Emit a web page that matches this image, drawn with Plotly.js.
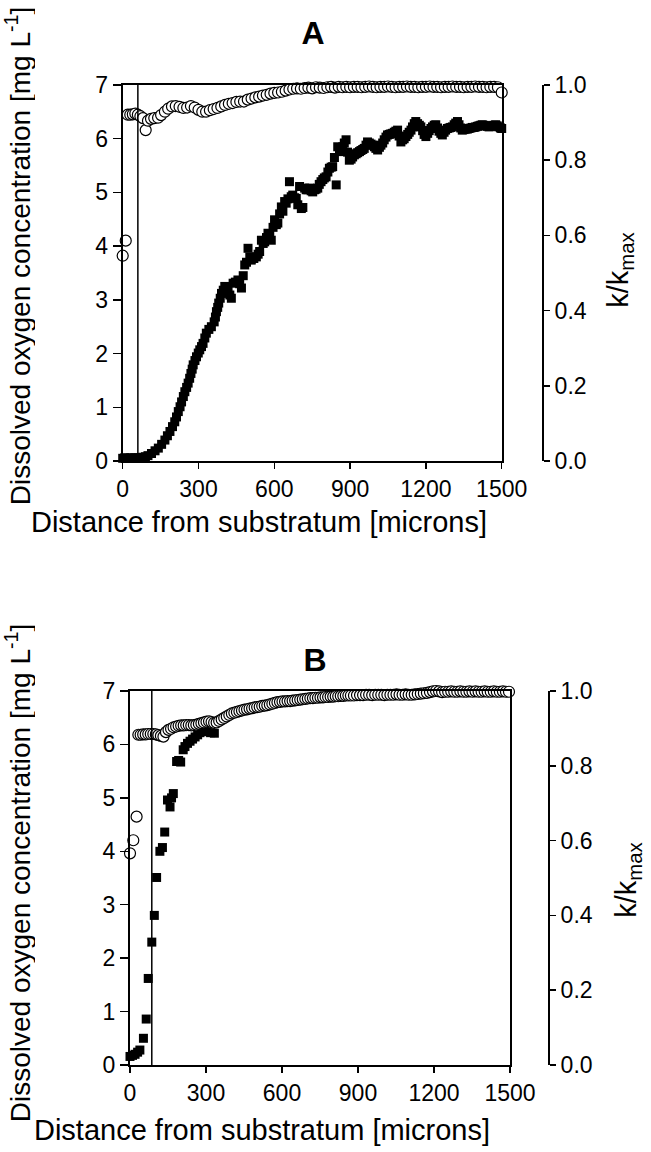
<!DOCTYPE html>
<html>
<head>
<meta charset="utf-8">
<script src="https://cdn.plot.ly/plotly-3.0.1.min.js"></script>
<style>html,body{margin:0;padding:0;background:#fff}#chart{width:651px;height:1152px}</style>
</head>
<body>
<div id="chart"></div>
<script>
// ---------- Panel A ----------
const sqA_x = [0,8,16,24,32,40,48,56,64,72,80,90,100,114,128,141,154,167,177,187,197,206,213,220,227,233,240,246,253,259,265,270,275,279,286,292,299,305,312,318,325,331,341,351,362,367,371,376,380,386,391,398,404,417,424,430,437,446,456,463,470,477,483,490,496,503,509,519,529,536,542,549,556,562,569,575,582,588,595,601,608,614,621,628,634,641,647,654,660,667,673,680,687,693,700,707,713,720,726,733,740,746,752,759,765,772,778,785,792,798,805,812,818,825,831,838,845,851,858,864,871,877,884,890,897,904,910,917,924,930,937,943,950,956,963,969,976,983,989,996,1002,1009,1016,1022,1029,1035,1042,1048,1055,1061,1068,1075,1081,1088,1094,1101,1108,1114,1121,1128,1134,1141,1147,1154,1160,1167,1174,1180,1187,1193,1200,1207,1213,1220,1226,1233,1239,1246,1252,1259,1265,1272,1278,1285,1292,1298,1305,1312,1318,1325,1331,1338,1344,1351,1358,1364,1371,1378,1384,1391,1397,1404,1410,1417,1423,1430,1437,1443,1450,1456,1463,1469,1476,1482,1489,1495,1500];
const sqA_y = [0.05,0.06,0.05,0.05,0.06,0.05,0.06,0.05,0.06,0.06,0.07,0.08,0.10,0.14,0.19,0.24,0.31,0.39,0.47,0.55,0.64,0.73,0.82,0.92,1.01,1.10,1.20,1.29,1.37,1.45,1.54,1.63,1.71,1.79,1.87,1.94,2.01,2.07,2.13,2.19,2.29,2.38,2.45,2.50,2.59,2.68,2.78,2.86,2.94,3.03,3.12,3.18,3.25,3.20,3.09,3.03,3.31,3.33,3.37,3.30,3.22,3.45,3.65,3.70,3.96,3.80,3.74,3.77,3.80,3.85,3.90,4.11,4.05,4.08,4.16,4.24,4.20,4.11,4.35,4.49,4.40,4.43,4.60,4.73,4.65,4.83,4.80,4.88,5.20,4.92,4.95,4.90,4.89,4.77,5.11,4.70,4.72,5.08,5.05,5.05,5.08,5.03,5.01,5.05,5.06,5.08,5.15,5.20,5.24,5.27,5.29,5.38,5.45,5.47,5.48,5.65,5.14,5.85,5.80,5.76,5.85,5.92,5.98,5.75,5.60,5.62,5.66,5.70,5.72,5.74,5.76,5.78,5.80,5.82,5.88,5.94,5.92,5.90,5.88,5.85,5.82,5.79,5.84,5.88,5.92,5.98,6.03,6.07,6.08,6.09,6.10,6.12,6.14,6.16,6.05,5.94,5.98,6.00,6.04,6.08,6.12,6.16,6.22,6.28,6.32,6.28,6.25,6.22,6.15,6.08,6.04,6.10,6.15,6.19,6.22,6.25,6.26,6.20,6.14,6.10,6.07,6.12,6.16,6.19,6.20,6.21,6.22,6.26,6.29,6.32,6.26,6.20,6.16,6.17,6.18,6.18,6.19,6.20,6.21,6.21,6.22,6.23,6.24,6.25,6.26,6.25,6.24,6.23,6.22,6.23,6.24,6.25,6.26,6.24,6.22,6.20,6.19];

const ciA_x = [0,12,20,30,40,50,60,70,80,91,100,112,125,140,152,167,180,195,210,225,240,255,270,285,300,315,330,345,360,375,390,405,420,435,450,465,480,495,510,525,540,555,570,585,600,615,630,645,660,675,690,705,720,735,750,765,780,795,810,825,840,855,870,885,900,915,930,945,960,975,990,1005,1020,1035,1050,1065,1080,1095,1110,1125,1140,1155,1170,1185,1200,1215,1230,1245,1260,1275,1290,1305,1320,1335,1350,1365,1380,1395,1410,1425,1440,1455,1470,1485,1500];
const ciA_y = [0.546,0.586,0.921,0.921,0.922,0.924,0.921,0.917,0.912,0.880,0.905,0.910,0.912,0.913,0.920,0.929,0.937,0.943,0.944,0.942,0.939,0.940,0.944,0.940,0.934,0.929,0.929,0.933,0.936,0.939,0.943,0.947,0.950,0.952,0.955,0.956,0.956,0.961,0.964,0.967,0.969,0.972,0.974,0.977,0.979,0.980,0.982,0.985,0.988,0.990,0.991,0.990,0.992,0.993,0.991,0.994,0.993,0.992,0.994,0.995,0.993,0.995,0.994,0.995,0.994,0.995,0.995,0.994,0.995,0.996,0.995,0.994,0.995,0.995,0.996,0.995,0.994,0.995,0.995,0.996,0.995,0.995,0.994,0.995,0.995,0.996,0.995,0.995,0.994,0.995,0.995,0.996,0.995,0.995,0.994,0.995,0.995,0.996,0.995,0.995,0.994,0.995,0.995,0.994,0.980];

const surfaceA = 60;

// ---------- Panel B ----------
const sqB_x = [0,10,20,30,39,53,64,72,86,96,105,118,128,137,148,158,164,171,184,192,200,210,217,227,237,247,257,267,276,290,303,318,333];
const sqB_y = [0.16,0.18,0.20,0.24,0.28,0.50,0.86,1.62,2.30,2.80,3.51,4.00,4.07,4.36,4.96,4.83,5.00,5.08,5.68,5.70,5.67,5.90,5.96,6.02,6.06,6.10,6.14,6.18,6.22,6.24,6.24,6.22,6.21];

const ciB_x = [0,13,26,33,42,52,62,72,82,92,102,112,122,132,142,152,162,172,182,192,202,212,222,232,242,252,262,272,282,292,302,312,322,332,342,352,362,372,382,392,402,412,422,432,442,452,462,472,482,492,502,512,522,532,542,552,562,572,582,592,602,612,622,632,642,652,662,672,682,692,702,712,722,732,742,752,762,772,782,792,802,812,822,832,842,852,862,872,884,896,908,920,932,944,956,968,980,992,1004,1016,1028,1040,1052,1064,1076,1088,1100,1112,1124,1136,1148,1160,1172,1184,1196,1208,1220,1232,1244,1256,1268,1280,1292,1304,1316,1328,1340,1352,1364,1376,1388,1400,1412,1424,1436,1448,1460,1472,1484,1496];
const ciB_y = [0.566,0.601,0.664,0.883,0.883,0.884,0.884,0.885,0.885,0.885,0.884,0.882,0.880,0.878,0.890,0.896,0.899,0.903,0.905,0.907,0.908,0.908,0.909,0.909,0.908,0.909,0.910,0.912,0.914,0.916,0.918,0.919,0.917,0.915,0.916,0.920,0.924,0.928,0.932,0.936,0.940,0.942,0.944,0.946,0.948,0.950,0.951,0.953,0.954,0.956,0.957,0.958,0.960,0.961,0.962,0.964,0.966,0.968,0.970,0.971,0.972,0.972,0.973,0.973,0.974,0.975,0.976,0.977,0.978,0.979,0.980,0.981,0.981,0.982,0.982,0.983,0.983,0.984,0.984,0.985,0.985,0.986,0.986,0.987,0.987,0.988,0.988,0.988,0.988,0.989,0.989,0.989,0.990,0.990,0.989,0.990,0.990,0.990,0.989,0.990,0.990,0.990,0.991,0.990,0.990,0.991,0.990,0.990,0.991,0.992,0.993,0.994,0.995,0.997,0.999,1.000,0.999,0.997,0.998,0.998,0.999,0.998,0.998,0.999,0.998,0.998,0.999,0.998,0.999,0.998,0.998,0.999,0.998,0.998,0.999,0.998,0.998,0.999,0.998,0.998];

const surfaceB = 86;

const xTickVals = [0,300,600,900,1200,1500];
const leftTickVals = [0,1,2,3,4,5,6,7];
const rightTickVals = [0,0.2,0.4,0.6,0.8,1.0];

const xTitle = 'Distance from substratum [microns]';
const yTitle = 'Dissolved oxygen concentration [mg L<sup>-1</sup>]';
const y2Title = 'k/k<sub>max</sub>';

// ---------- styling ----------
const FONT = 'Liberation Sans, Arial, sans-serif';
const tickFont = {family: FONT, size: 23, color: '#000'};
const titleFont = {family: FONT, size: 29, color: '#000'};
const yTitleFont = {family: FONT, size: 28, color: '#000'};
const panelFont = {family: FONT, size: 32, color: '#000'};

const W = 651, H = 1152;
const px = v => v / W;
const py = v => 1 - v / H;

const sqMarker = {symbol: 'square', size: 9, color: '#000', line: {width: 0}};
const ciMarker = {symbol: 'circle', size: 11, color: '#fff', line: {color: '#000', width: 1.2}};

const traces = [
  {x: sqA_x, y: sqA_y, xaxis: 'x', yaxis: 'y', mode: 'markers', marker: sqMarker, cliponaxis: false, showlegend: false},
  {x: ciA_x, y: ciA_y, xaxis: 'x', yaxis: 'y2', mode: 'markers', marker: ciMarker, cliponaxis: false, showlegend: false},
  {x: sqB_x, y: sqB_y, xaxis: 'x2', yaxis: 'y3', mode: 'markers', marker: sqMarker, cliponaxis: false, showlegend: false},
  {x: ciB_x, y: ciB_y, xaxis: 'x2', yaxis: 'y4', mode: 'markers', marker: ciMarker, cliponaxis: false, showlegend: false}
];

function xAx(dom, anchor) {
  return {domain: dom, anchor: anchor, range: [0, 1500], tickvals: xTickVals, ticks: 'outside', ticklen: 6, tickwidth: 1.5,
    tickcolor: '#000', showline: true, linecolor: '#000', linewidth: 2, mirror: true, showgrid: false, zeroline: false,
    tickfont: tickFont, fixedrange: true};
}
function yAx(dom, anchor) {
  return {domain: dom, anchor: anchor, range: [0, 7], tickvals: leftTickVals, ticks: 'outside', ticklen: 8, tickwidth: 1.5,
    tickcolor: '#000', showline: true, linecolor: '#000', linewidth: 2, mirror: true, showgrid: false, zeroline: false,
    tickfont: tickFont, fixedrange: true};
}
function yRight(over, pos) {
  return {overlaying: over, anchor: 'free', position: pos, side: 'right', range: [0, 1], tickvals: rightTickVals,
    tickformat: '.1f', ticks: 'outside', ticklen: 6, tickwidth: 1.5, tickcolor: '#000', showline: true, linecolor: '#000',
    linewidth: 2, showgrid: false, zeroline: false, tickfont: tickFont, fixedrange: true};
}

const domAx = [px(122.7), px(501.7)];
const domAy = [py(461), py(85)];
const domBx = [px(130), px(510)];
const domBy = [py(1065), py(691)];

function ann(text, x, y, font, w, h, angle) {
  const a = {text: text, x: px(x), y: py(y), xref: 'paper', yref: 'paper', showarrow: false, font: font,
    xanchor: 'center', yanchor: 'middle', width: w, height: h, align: 'center', valign: 'middle'};
  if (angle) a.textangle = angle;
  return a;
}

const layout = {
  width: W, height: H,
  margin: {l: 0, r: 0, t: 0, b: 0},
  paper_bgcolor: '#fff', plot_bgcolor: 'rgba(0,0,0,0)',
  font: {family: FONT, color: '#000'},
  xaxis: xAx(domAx, 'y'),
  yaxis: yAx(domAy, 'x'),
  yaxis2: yRight('y', px(543)),
  xaxis2: xAx(domBx, 'y3'),
  yaxis3: yAx(domBy, 'x2'),
  yaxis4: yRight('y3', px(549)),
  shapes: [
    {type: 'line', xref: 'x', yref: 'y', x0: surfaceA, x1: surfaceA, y0: 0, y1: 7, line: {color: '#000', width: 1.5}},
    {type: 'line', xref: 'x2', yref: 'y3', x0: surfaceB, x1: surfaceB, y0: 0, y1: 7, line: {color: '#000', width: 1.5}}
  ],
  annotations: [
    ann('<b>A</b>', 313, 33, panelFont, 40, 40),
    ann('<b>B</b>', 315, 660, panelFont, 40, 40),
    ann(xTitle, 259, 522, titleFont, 490, 36),
    ann(xTitle, 262, 1130, titleFont, 490, 36),
    ann(yTitle, 18, 256, yTitleFont, 510, 34, -90),
    ann(yTitle, 18, 873, yTitleFont, 510, 34, -90),
    ann(y2Title, 620, 270, titleFont, 100, 40, -90),
    ann(y2Title, 628, 880, titleFont, 100, 40, -90)
  ]
};

Plotly.newPlot('chart', traces, layout, {displayModeBar: false, staticPlot: true});
</script>
</body>
</html>
